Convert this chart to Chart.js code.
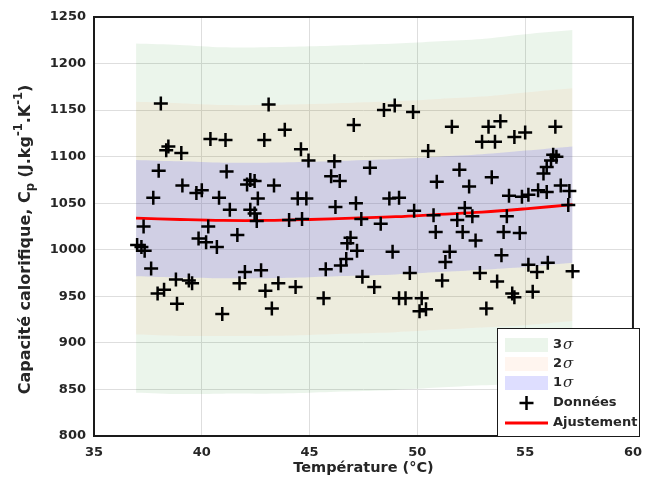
<!DOCTYPE html>
<html>
<head>
<meta charset="utf-8">
<script src="https://cdn.jsdelivr.net/npm/chart.js@4.4.0/dist/chart.umd.min.js"></script>
<style>
  html, body { margin: 0; padding: 0; background: #fff; }
  #wrap { width: 651px; height: 490px; }
</style>
</head>
<body>
<div id="wrap"><canvas id="myChart" width="651" height="490"></canvas></div>
<script>
// measured points (temperature in °C, heat capacity in J/kg/K)
const temps = [37.0,37.2,37.35,37.3,37.65,37.75,37.95,38.0,38.1,38.25,
  38.35,38.45,38.85,38.8,39.05,39.1,39.4,39.55,39.75,40.0,
  39.85,40.2,40.3,40.4,40.7,40.8,40.95,41.1,41.15,41.3,
  41.65,41.75,42.0,42.1,42.25,42.45,42.25,42.45,42.55,42.6,
  42.75,42.9,42.95,43.1,43.25,43.35,43.55,43.85,44.05,44.35,
  44.45,44.6,44.65,44.85,44.95,45.65,45.75,46.0,46.15,46.2,
  46.4,46.45,46.7,46.75,46.9,47.05,47.15,47.2,47.4,47.45,
  47.8,48.0,48.3,48.45,48.7,48.85,48.95,49.15,49.15,49.45,
  49.65,49.8,49.85,50.2,50.1,50.4,50.5,50.75,50.85,50.9,
  51.15,51.3,51.5,51.6,51.85,51.95,52.1,52.2,52.4,52.55,
  52.7,52.9,53.0,53.2,53.3,53.45,53.6,53.7,53.85,53.9,
  54.0,54.15,54.25,54.4,54.5,54.5,54.75,54.85,55.0,55.15,
  55.15,55.35,55.55,55.6,55.85,56.0,56.0,56.05,56.2,56.3,
  56.45,56.4,56.65,57.0,57.05,57.2]
const cpValues = [1005,1003,999,1025,980,1056,953,1085,1157,957,
  1107,1111,942,968,1104,1069,967,964,1061,1064,
  1012,1008,1025,1119,1003,1056,931,1118,1084,1043,
  1016,964,976,1070,1075,1074,1043,1039,1031,1055,
  978,1118,956,1156,937,1069,964,1129,1032,960,
  1055,1108,1033,1055,1096,948,979,1079,1095,1046,
  1074,983,990,1007,1013,1134,1050,999,1033,971,
  1088,960,1028,1150,1055,998,1155,1056,948,948,
  975,1148,1042,948,934,936,1106,1037,1019,1073,
  967,987,998,1132,1032,1086,1019,1045,1068,1036,
  1010,975,1116,937,1132,1078,1116,966,1138,994,
  1019,1036,1058,953,949,1121,1018,1057,1126,984,
  1059,955,976,1064,1082,1089,1062,986,1096,1102,
  1100,1132,1069,1048,1063,977]

// fitted curve and band half-width, read at a few temperatures
const fitTemps = [36.95,39,41,43,45,47,49,51,53,55,57.2]
const fitValues = [1034,1032.5,1031.5,1031.5,1032.5,1034,1035.5,1038,1040.5,1044,1048.5]
const sigmaValues = [62.5,62.5,62,62,62,62,62,62,62,62.5,62.5]

const xTicks = [35,40,45,50,55,60]
const yTicks = [800,850,900,950,1000,1050,1100,1150,1200,1250]

const bandColors = {
  3: 'rgba(0,128,0,0.08)',
  2: 'rgba(250,140,80,0.09)',
  1: 'rgba(100,100,255,0.21)'
}
const FONT = '"DejaVu Sans", sans-serif'
const textColor = '#262626'

function bandLine(k, sign) {
  return fitTemps.map((t, i) => ({ x: t, y: fitValues[i] + sign * k * sigmaValues[i] }))
}

const datasets = [
  {
    label: 'Données',
    data: temps.map((t, i) => ({ x: t, y: cpValues[i] })),
    showLine: false,
    pointStyle: 'cross',
    pointRadius: 7,
    pointBorderWidth: 2.5,
    pointBorderColor: '#000',
    pointBackgroundColor: '#000'
  },
  {
    label: 'Ajustement',
    data: fitTemps.map((t, i) => ({ x: t, y: fitValues[i] })),
    borderColor: '#ff0000',
    borderWidth: 2.8,
    pointRadius: 0,
    tension: 0.4,
    fill: false
  }
]
for (const k of [1, 2, 3]) {
  datasets.push({ data: bandLine(k, -1), borderWidth: 0, pointRadius: 0, fill: false, tension: 0.3 })
  datasets.push({ data: bandLine(k, 1), borderWidth: 0, pointRadius: 0, tension: 0.3,
    fill: '-1', backgroundColor: bandColors[k] })
}

// draws text made of pieces with subscripts / superscripts
function richText(ctx, parts, size) {
  let w = 0
  for (const p of parts) {
    ctx.font = 'bold ' + (p.s ? size * 0.72 : size) + 'px ' + FONT
    p.w = ctx.measureText(p.t).width
    w += p.w
  }
  let x = -w / 2
  for (const p of parts) {
    ctx.font = 'bold ' + (p.s ? size * 0.72 : size) + 'px ' + FONT
    const dy = p.s === -1 ? size * 0.3 : (p.s === 1 ? -size * 0.42 : 0)
    ctx.fillText(p.t, x, dy)
    x += p.w
  }
}

const decorations = {
  id: 'decorations',
  afterDraw(chart) {
    const ctx = chart.ctx
    const a = chart.chartArea
    ctx.save()
    // axes box
    ctx.strokeStyle = '#1a1a1a'
    ctx.lineWidth = 2
    ctx.strokeRect(a.left, a.top, a.right - a.left, a.bottom - a.top)

    // axis titles
    ctx.fillStyle = textColor
    ctx.textBaseline = 'middle'
    ctx.textAlign = 'left'
    ctx.save()
    ctx.translate((a.left + a.right) / 2, 468)
    richText(ctx, [{ t: 'Température (°C)' }], 14.5)
    ctx.restore()
    ctx.save()
    ctx.translate(26, (a.top + a.bottom) / 2 + 13)
    ctx.rotate(-Math.PI / 2)
    richText(ctx, [
      { t: 'Capacité calorifique, C' }, { t: 'p', s: -1 }, { t: ' (J.kg' },
      { t: '-1', s: 1 }, { t: '.K' }, { t: '-1', s: 1 }, { t: ')' }
    ], 16)
    ctx.restore()

    // legend box
    const lx = 497.5, ly = 328.5, lw = 142, lh = 108
    ctx.fillStyle = '#fff'
    ctx.fillRect(lx, ly, lw, lh)
    ctx.strokeStyle = '#1a1a1a'
    ctx.lineWidth = 1
    ctx.strokeRect(lx, ly, lw, lh)
    const sx = 505, sw = 43, tx = 553
    const rows = [345, 364, 383, 403, 423]
    ;[3, 2, 1].forEach((k, i) => {
      ctx.fillStyle = bandColors[k]
      ctx.fillRect(sx, rows[i] - 7, sw, 14)
      ctx.fillStyle = textColor
      ctx.font = 'bold 13px ' + FONT
      ctx.fillText(String(k), tx, rows[i])
      const w = ctx.measureText(String(k)).width
      ctx.font = 'italic 15px "DejaVu Serif", serif'
      ctx.fillText('σ', tx + w + 1, rows[i])
    })
    ctx.strokeStyle = '#000'
    ctx.lineWidth = 2.5
    ctx.beginPath()
    ctx.moveTo(sx + sw / 2 - 7, rows[3]); ctx.lineTo(sx + sw / 2 + 7, rows[3])
    ctx.moveTo(sx + sw / 2, rows[3] - 7); ctx.lineTo(sx + sw / 2, rows[3] + 7)
    ctx.stroke()
    ctx.strokeStyle = '#ff0000'
    ctx.lineWidth = 2.8
    ctx.beginPath()
    ctx.moveTo(sx, rows[4]); ctx.lineTo(sx + sw, rows[4])
    ctx.stroke()
    ctx.fillStyle = textColor
    ctx.font = 'bold 13px ' + FONT
    ctx.fillText('Données', tx, rows[3])
    ctx.fillText('Ajustement', tx, rows[4])
    ctx.restore()
  }
}

const ctx = document.getElementById('myChart').getContext('2d')
const myChart = new Chart(ctx, {
  type: 'line',
  data: { datasets: datasets },
  plugins: [decorations],
  options: {
    responsive: false,
    animation: false,
    devicePixelRatio: 1,
    layout: { padding: { left: 0, top: 17, right: 13, bottom: 0 } },
    plugins: { legend: { display: false }, tooltip: { enabled: false } },
    scales: {
      x: {
        type: 'linear', min: 35, max: 60,
        afterBuildTicks: s => { s.ticks = xTicks.map(v => ({ value: v })) },
        afterFit: s => { s.height = 54 },
        grid: { color: '#dedede', drawTicks: false },
        border: { display: false },
        ticks: { padding: 9, color: textColor, callback: v => String(v),
          font: { family: FONT, size: 13, weight: 'bold' } }
      },
      y: {
        type: 'linear', min: 800, max: 1250,
        afterBuildTicks: s => { s.ticks = yTicks.map(v => ({ value: v })) },
        afterFit: s => { s.width = 94 },
        grid: { color: '#dedede', drawTicks: false },
        border: { display: false },
        ticks: { padding: 8, color: textColor, callback: v => String(v),
          font: { family: FONT, size: 13, weight: 'bold' } }
      }
    }
  }
})
</script>
</body>
</html>
